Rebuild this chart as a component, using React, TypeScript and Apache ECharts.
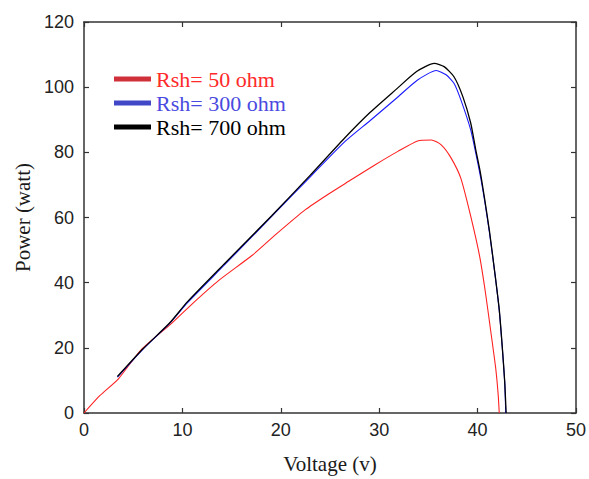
import React, { useEffect, useRef } from "react";
import * as echarts from "echarts";

const seriesNames = ["Rsh= 50 ohm", "Rsh= 300 ohm", "Rsh= 700 ohm"];
const lineColors = ["#ff2020", "#1a1aff", "#000000"];
const legendIconColors = ["#d0303a", "#4048c8", "#000000"];
const legendTextColors = ["#ff2a2a", "#4a4ae0", "#000000"];

const rsh50: [number, number][] = [
  [0, 0], [1.6, 5.3], [3.5, 10.5], [5.8, 19.4], [8.9, 27.5], [11, 33.5],
  [13.7, 40.7], [17.1, 48.4], [19.5, 54.8], [22.5, 62.4], [24.9, 67.3],
  [26.9, 71.1], [29.6, 76.2], [31.9, 80.3], [33.9, 83.5], [35.3, 83.8],
  [36.3, 82.3], [37.3, 78.3], [38.3, 72], [39.3, 60.4],
  [40.2, 48.2], [40.8, 36.9], [41.4, 23.7], [41.85, 13.5], [42.1, 5.3], [42.2, 0],
];

const rsh300: [number, number][] = [
  [3.4, 11], [6, 19.6], [8.7, 27.5], [10.5, 33.8], [14.2, 45.2], [19.1, 60.4],
  [23, 72.5], [26.4, 83], [29.06, 89.7], [31.75, 96.6], [33.9, 102.2],
  [35.8, 105.1], [36.8, 103.8], [37.6, 101.2], [38.3, 96.1], [39.3, 86.9],
  [39.8, 80], [40.3, 72.5], [40.7, 65.5], [41.2, 55.5], [41.75, 43], [42.2, 31.5],
  [42.5, 20.4], [42.76, 9.2], [42.86, 0],
];

const rsh700: [number, number][] = [
  [3.4, 11.2], [6, 19.7], [8.7, 27.6], [10.5, 34.1], [14.2, 45.6], [19.1, 60.6],
  [23, 73], [26.4, 84.1], [29.06, 92.2], [31.75, 99.4], [33.8, 104.8],
  [35.6, 107.3], [36.6, 106.3], [37.6, 103.2], [38.5, 97.1], [39.3, 89],
  [39.8, 81], [40.3, 73.5], [40.7, 66], [41.2, 56], [41.75, 43.1],
  [42.2, 31.8], [42.5, 20.6], [42.76, 9.4], [42.9, 0],
];

const allData = [rsh50, rsh300, rsh700];

const xAxisTitle = "Voltage (v)";
const yAxisTitle = "Power (watt)";

export default function App() {
  const ref = useRef<HTMLDivElement>(null);
  useEffect(() => {
    if (!ref.current) return;
    const chart = echarts.init(ref.current, null, { renderer: "svg" });
    const axisLine = { show: true, onZero: false, lineStyle: { color: "#333", width: 1.5 } };
    const tick = { show: true, inside: true, length: 5, lineStyle: { color: "#333", width: 1.2 } };
    const label = { color: "#222", fontSize: 18, fontFamily: "Liberation Sans, Arial, sans-serif" };
    const serif = "Liberation Serif, Times New Roman, serif";
    chart.setOption({
      animation: false,
      backgroundColor: "#ffffff",
      grid: { left: 84, right: 10, top: 22, bottom: 65, containLabel: false },
      legend: {
        orient: "vertical",
        left: 109,
        top: 63,
        itemGap: 2,
        itemWidth: 37,
        itemHeight: 5,
        icon: "rect",
        textStyle: { fontSize: 22, fontFamily: serif },
        data: seriesNames.map((n, i) => ({
          name: n,
          itemStyle: { color: legendIconColors[i] },
          textStyle: { color: legendTextColors[i] },
        })),
      },
      xAxis: [
        {
          type: "value", min: 0, max: 50, interval: 10,
          name: xAxisTitle, nameLocation: "middle", nameGap: 40,
          nameTextStyle: { fontSize: 21, color: "#1a1a1a", fontFamily: serif },
          axisLine, axisTick: tick, axisLabel: { ...label, margin: 8 }, splitLine: { show: false },
        },
        {
          type: "value", min: 0, max: 50, interval: 10, position: "top",
          axisLine, axisTick: tick, axisLabel: { show: false }, splitLine: { show: false },
        },
      ],
      yAxis: [
        {
          type: "value", min: 0, max: 120, interval: 20,
          name: yAxisTitle, nameLocation: "middle", nameGap: 49,
          nameTextStyle: { fontSize: 21, color: "#1a1a1a", fontFamily: serif },
          axisLine, axisTick: tick, axisLabel: { ...label, margin: 10 }, splitLine: { show: false },
        },
        {
          type: "value", min: 0, max: 120, interval: 20, position: "right",
          axisLine, axisTick: tick, axisLabel: { show: false }, splitLine: { show: false },
        },
      ],
      series: allData.map((d, i) => ({
        name: seriesNames[i],
        type: "line",
        data: d,
        symbol: "none",
        smooth: 0.2,
        color: legendIconColors[i],
        lineStyle: { color: lineColors[i], width: i === 2 ? 1.3 : 1.1 },
        z: 2 + i,
      })),
    });
    return () => chart.dispose();
  }, []);
  return (
    <div
      ref={ref}
      style={{ position: "fixed", left: 0, top: 0, width: 589, height: 479, background: "#fff" }}
    />
  );
}
